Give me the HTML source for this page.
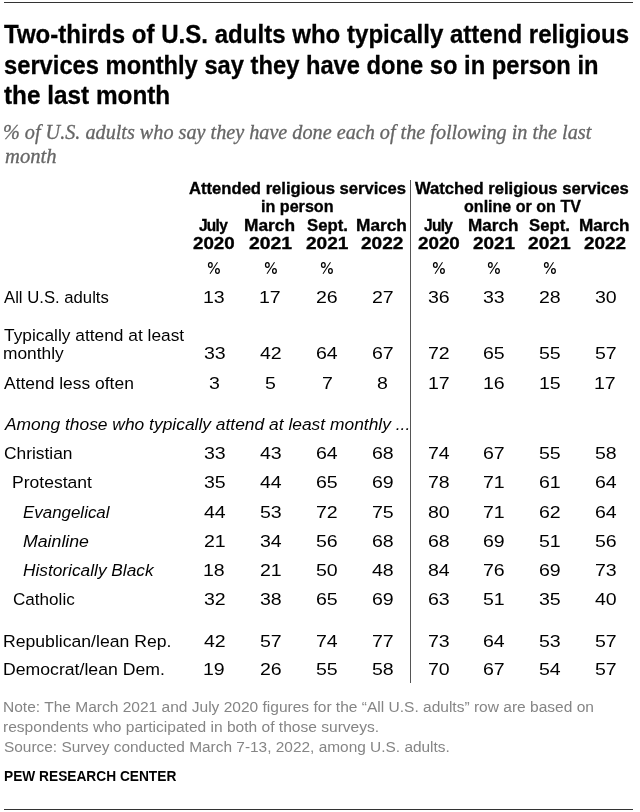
<!DOCTYPE html>
<html><head><meta charset="utf-8"><style>
html,body{margin:0;padding:0;background:#fff;width:640px;height:812px;overflow:hidden}
body{position:relative}
#w{position:absolute;left:0;top:0;width:640px;height:812px;will-change:transform;opacity:0.999}
span{position:absolute;white-space:pre;transform-origin:0 0}
.title{font:normal bold 26px "Liberation Sans", sans-serif;color:#000;line-height:31px}
.sub{font:italic normal 20px "Liberation Serif", serif;color:#666;line-height:24px}
.hdr{font:normal bold 16.5px "Liberation Sans", sans-serif;color:#000;line-height:20px}
.body{font:normal normal 16.3px "Liberation Sans", sans-serif;color:#000;line-height:20px}
.bodyi{font:italic normal 16.3px "Liberation Sans", sans-serif;color:#000;line-height:20px}
.num{font:normal normal 16.3px "Liberation Sans", sans-serif;color:#000;line-height:20px}
.note{font:normal normal 15.5px "Liberation Sans", sans-serif;color:#858585;line-height:19px}
.pew{font:normal bold 14.5px "Liberation Sans", sans-serif;color:#000;line-height:17px}
.hl{position:absolute;background:#333;height:1px}
.title{-webkit-text-stroke:0.3px #000}
.sub{-webkit-text-stroke:0.3px #666}
.hdr{-webkit-text-stroke:0.35px #000}
.pc{position:absolute;fill:none;stroke:#000;stroke-width:1.25}
.vl{position:absolute;background:#555;width:1px}
</style></head><body><div id="w">
<div class="hl" style="left:4px;top:2px;width:629px"></div>
<div class="vl" style="left:410px;top:180px;height:503px"></div>
<div class="hl" style="left:4px;top:809px;width:629px"></div>
<span class="title" style="left:3.90px;top:19.00px;transform:scaleX(0.9252);">Two-thirds of U.S. adults who typically attend religious</span>
<span class="title" style="left:3.80px;top:50.00px;transform:scaleX(0.9123);">services monthly say they have done so in person in</span>
<span class="title" style="left:4.00px;top:80.00px;transform:scaleX(0.9356);">the last month</span>
<span class="sub" style="left:3.29px;top:120.00px;transform:scaleX(1.0096);">% of U.S. adults who say they have done each of the following in the last</span>
<span class="sub" style="left:4.50px;top:144.00px;transform:scaleX(1.0300);">month</span>
<span class="hdr" style="left:189.30px;top:178.00px;transform:scaleX(1.0074);">Attended religious services</span>
<span class="hdr" style="left:261.32px;top:196.00px;transform:scaleX(0.9771);">in person</span>
<span class="hdr" style="left:415.20px;top:178.00px;transform:scaleX(1.0077);">Watched religious services</span>
<span class="hdr" style="left:463.50px;top:196.00px;transform:scaleX(0.9736);">online or on TV</span>
<span class="hdr" style="left:198.90px;top:215.00px;transform:scaleX(0.9359);letter-spacing:-0.77px;">July</span>
<span class="hdr" style="left:244.35px;top:215.00px;transform:scaleX(1.0501);">March</span>
<span class="hdr" style="left:306.60px;top:215.00px;transform:scaleX(1.0137);">Sept.</span>
<span class="hdr" style="left:356.15px;top:215.00px;transform:scaleX(1.0480);">March</span>
<span class="hdr" style="left:423.80px;top:215.00px;transform:scaleX(0.9374);letter-spacing:-0.75px;">July</span>
<span class="hdr" style="left:468.16px;top:215.00px;transform:scaleX(1.0375);">March</span>
<span class="hdr" style="left:529.40px;top:215.00px;transform:scaleX(1.0137);">Sept.</span>
<span class="hdr" style="left:579.36px;top:215.00px;transform:scaleX(1.0396);">March</span>
<span class="hdr" style="left:193.00px;top:233.00px;transform:scaleX(1.1361);">2020</span>
<span class="hdr" style="left:249.20px;top:233.00px;transform:scaleX(1.1717);">2021</span>
<span class="hdr" style="left:305.60px;top:233.00px;transform:scaleX(1.1552);">2021</span>
<span class="hdr" style="left:361.00px;top:233.00px;transform:scaleX(1.1552);">2022</span>
<span class="hdr" style="left:417.80px;top:233.00px;transform:scaleX(1.1388);">2020</span>
<span class="hdr" style="left:472.90px;top:233.00px;transform:scaleX(1.1470);">2021</span>
<span class="hdr" style="left:528.40px;top:233.00px;transform:scaleX(1.1662);">2021</span>
<span class="hdr" style="left:584.20px;top:233.00px;transform:scaleX(1.1443);">2022</span>
<span class="body" style="left:4.10px;top:325.00px;transform:scaleX(1.0647);">Typically attend at least</span>
<span class="bodyi" style="left:4.97px;top:414.00px;transform:scaleX(1.0687);">Among those who typically attend at least monthly ...</span>
<span class="body" style="left:4.10px;top:287.00px;transform:scaleX(1.0254);">All U.S. adults</span>
<span class="num" style="left:202.97px;top:287.00px;transform:scaleX(1.2000);">13</span>
<span class="num" style="left:259.37px;top:287.00px;transform:scaleX(1.2000);">17</span>
<span class="num" style="left:316.17px;top:287.00px;transform:scaleX(1.2000);">26</span>
<span class="num" style="left:371.67px;top:287.00px;transform:scaleX(1.2000);">27</span>
<span class="num" style="left:428.47px;top:287.00px;transform:scaleX(1.2000);">36</span>
<span class="num" style="left:483.47px;top:287.00px;transform:scaleX(1.2000);">33</span>
<span class="num" style="left:539.37px;top:287.00px;transform:scaleX(1.2000);">28</span>
<span class="num" style="left:594.77px;top:287.00px;transform:scaleX(1.2000);">30</span>
<span class="body" style="left:3.03px;top:343.00px;transform:scaleX(1.0656);">monthly</span>
<span class="num" style="left:203.57px;top:343.00px;transform:scaleX(1.2000);">33</span>
<span class="num" style="left:259.97px;top:343.00px;transform:scaleX(1.2000);">42</span>
<span class="num" style="left:316.17px;top:343.00px;transform:scaleX(1.2000);">64</span>
<span class="num" style="left:371.67px;top:343.00px;transform:scaleX(1.2000);">67</span>
<span class="num" style="left:428.47px;top:343.00px;transform:scaleX(1.2000);">72</span>
<span class="num" style="left:483.47px;top:343.00px;transform:scaleX(1.2000);">65</span>
<span class="num" style="left:539.37px;top:343.00px;transform:scaleX(1.2000);">55</span>
<span class="num" style="left:594.77px;top:343.00px;transform:scaleX(1.2000);">57</span>
<span class="body" style="left:4.10px;top:373.00px;transform:scaleX(1.0705);">Attend less often</span>
<span class="num" style="left:209.00px;top:373.00px;transform:scaleX(1.2000);">3</span>
<span class="num" style="left:265.40px;top:373.00px;transform:scaleX(1.2000);">5</span>
<span class="num" style="left:321.60px;top:373.00px;transform:scaleX(1.2000);">7</span>
<span class="num" style="left:377.10px;top:373.00px;transform:scaleX(1.2000);">8</span>
<span class="num" style="left:427.87px;top:373.00px;transform:scaleX(1.2000);">17</span>
<span class="num" style="left:482.87px;top:373.00px;transform:scaleX(1.2000);">16</span>
<span class="num" style="left:538.77px;top:373.00px;transform:scaleX(1.2000);">15</span>
<span class="num" style="left:594.17px;top:373.00px;transform:scaleX(1.2000);">17</span>
<span class="body" style="left:4.10px;top:443.00px;transform:scaleX(1.0667);">Christian</span>
<span class="num" style="left:203.57px;top:443.00px;transform:scaleX(1.2000);">33</span>
<span class="num" style="left:259.97px;top:443.00px;transform:scaleX(1.2000);">43</span>
<span class="num" style="left:316.17px;top:443.00px;transform:scaleX(1.2000);">64</span>
<span class="num" style="left:371.67px;top:443.00px;transform:scaleX(1.2000);">68</span>
<span class="num" style="left:428.47px;top:443.00px;transform:scaleX(1.2000);">74</span>
<span class="num" style="left:483.47px;top:443.00px;transform:scaleX(1.2000);">67</span>
<span class="num" style="left:539.37px;top:443.00px;transform:scaleX(1.2000);">55</span>
<span class="num" style="left:594.77px;top:443.00px;transform:scaleX(1.2000);">58</span>
<span class="body" style="left:12.32px;top:472.00px;transform:scaleX(1.0775);">Protestant</span>
<span class="num" style="left:203.57px;top:472.00px;transform:scaleX(1.2000);">35</span>
<span class="num" style="left:259.97px;top:472.00px;transform:scaleX(1.2000);">44</span>
<span class="num" style="left:316.17px;top:472.00px;transform:scaleX(1.2000);">65</span>
<span class="num" style="left:371.67px;top:472.00px;transform:scaleX(1.2000);">69</span>
<span class="num" style="left:428.47px;top:472.00px;transform:scaleX(1.2000);">78</span>
<span class="num" style="left:483.47px;top:472.00px;transform:scaleX(1.2000);">71</span>
<span class="num" style="left:539.37px;top:472.00px;transform:scaleX(1.2000);">61</span>
<span class="num" style="left:594.77px;top:472.00px;transform:scaleX(1.2000);">64</span>
<span class="bodyi" style="left:22.50px;top:502.00px;transform:scaleX(1.0389);">Evangelical</span>
<span class="num" style="left:203.57px;top:502.00px;transform:scaleX(1.2000);">44</span>
<span class="num" style="left:259.97px;top:502.00px;transform:scaleX(1.2000);">53</span>
<span class="num" style="left:316.17px;top:502.00px;transform:scaleX(1.2000);">72</span>
<span class="num" style="left:371.67px;top:502.00px;transform:scaleX(1.2000);">75</span>
<span class="num" style="left:428.47px;top:502.00px;transform:scaleX(1.2000);">80</span>
<span class="num" style="left:483.47px;top:502.00px;transform:scaleX(1.2000);">71</span>
<span class="num" style="left:539.37px;top:502.00px;transform:scaleX(1.2000);">62</span>
<span class="num" style="left:594.77px;top:502.00px;transform:scaleX(1.2000);">64</span>
<span class="bodyi" style="left:22.50px;top:531.00px;transform:scaleX(1.0878);">Mainline</span>
<span class="num" style="left:203.57px;top:531.00px;transform:scaleX(1.2000);">21</span>
<span class="num" style="left:259.97px;top:531.00px;transform:scaleX(1.2000);">34</span>
<span class="num" style="left:316.17px;top:531.00px;transform:scaleX(1.2000);">56</span>
<span class="num" style="left:371.67px;top:531.00px;transform:scaleX(1.2000);">68</span>
<span class="num" style="left:428.47px;top:531.00px;transform:scaleX(1.2000);">68</span>
<span class="num" style="left:483.47px;top:531.00px;transform:scaleX(1.2000);">69</span>
<span class="num" style="left:539.37px;top:531.00px;transform:scaleX(1.2000);">51</span>
<span class="num" style="left:594.77px;top:531.00px;transform:scaleX(1.2000);">56</span>
<span class="bodyi" style="left:22.50px;top:560.00px;transform:scaleX(1.0613);">Historically Black</span>
<span class="num" style="left:202.97px;top:560.00px;transform:scaleX(1.2000);">18</span>
<span class="num" style="left:259.97px;top:560.00px;transform:scaleX(1.2000);">21</span>
<span class="num" style="left:316.17px;top:560.00px;transform:scaleX(1.2000);">50</span>
<span class="num" style="left:371.67px;top:560.00px;transform:scaleX(1.2000);">48</span>
<span class="num" style="left:428.47px;top:560.00px;transform:scaleX(1.2000);">84</span>
<span class="num" style="left:483.47px;top:560.00px;transform:scaleX(1.2000);">76</span>
<span class="num" style="left:539.37px;top:560.00px;transform:scaleX(1.2000);">69</span>
<span class="num" style="left:594.77px;top:560.00px;transform:scaleX(1.2000);">73</span>
<span class="body" style="left:13.40px;top:589.00px;transform:scaleX(1.0498);">Catholic</span>
<span class="num" style="left:203.57px;top:589.00px;transform:scaleX(1.2000);">32</span>
<span class="num" style="left:259.97px;top:589.00px;transform:scaleX(1.2000);">38</span>
<span class="num" style="left:316.17px;top:589.00px;transform:scaleX(1.2000);">65</span>
<span class="num" style="left:371.67px;top:589.00px;transform:scaleX(1.2000);">69</span>
<span class="num" style="left:428.47px;top:589.00px;transform:scaleX(1.2000);">63</span>
<span class="num" style="left:483.47px;top:589.00px;transform:scaleX(1.2000);">51</span>
<span class="num" style="left:539.37px;top:589.00px;transform:scaleX(1.2000);">35</span>
<span class="num" style="left:594.77px;top:589.00px;transform:scaleX(1.2000);">40</span>
<span class="body" style="left:3.42px;top:631.00px;transform:scaleX(1.0817);">Republican/lean Rep.</span>
<span class="num" style="left:203.57px;top:631.00px;transform:scaleX(1.2000);">42</span>
<span class="num" style="left:259.97px;top:631.00px;transform:scaleX(1.2000);">57</span>
<span class="num" style="left:316.17px;top:631.00px;transform:scaleX(1.2000);">74</span>
<span class="num" style="left:371.67px;top:631.00px;transform:scaleX(1.2000);">77</span>
<span class="num" style="left:428.47px;top:631.00px;transform:scaleX(1.2000);">73</span>
<span class="num" style="left:483.47px;top:631.00px;transform:scaleX(1.2000);">64</span>
<span class="num" style="left:539.37px;top:631.00px;transform:scaleX(1.2000);">53</span>
<span class="num" style="left:594.77px;top:631.00px;transform:scaleX(1.2000);">57</span>
<span class="body" style="left:3.42px;top:659.00px;transform:scaleX(1.0841);">Democrat/lean Dem.</span>
<span class="num" style="left:202.97px;top:659.00px;transform:scaleX(1.2000);">19</span>
<span class="num" style="left:259.97px;top:659.00px;transform:scaleX(1.2000);">26</span>
<span class="num" style="left:316.17px;top:659.00px;transform:scaleX(1.2000);">55</span>
<span class="num" style="left:371.67px;top:659.00px;transform:scaleX(1.2000);">58</span>
<span class="num" style="left:428.47px;top:659.00px;transform:scaleX(1.2000);">70</span>
<span class="num" style="left:483.47px;top:659.00px;transform:scaleX(1.2000);">67</span>
<span class="num" style="left:539.37px;top:659.00px;transform:scaleX(1.2000);">54</span>
<span class="num" style="left:594.77px;top:659.00px;transform:scaleX(1.2000);">57</span>
<span class="note" style="left:3.20px;top:697.00px;transform:scaleX(1.0017);">Note: The March 2021 and July 2020 figures for the “All U.S. adults” row are based on</span>
<span class="note" style="left:3.20px;top:717.00px;transform:scaleX(1.0035);">respondents who participated in both of those surveys.</span>
<span class="note" style="left:4.20px;top:737.00px;transform:scaleX(0.9951);">Source: Survey conducted March 7-13, 2022, among U.S. adults.</span>
<span class="pew" style="left:3.80px;top:768.00px;transform:scaleX(0.9463);">PEW RESEARCH CENTER</span>
<svg class="pc" style="left:206.40px;top:259.90px" width="16" height="16" viewBox="0 0 16 16"><ellipse cx="4.35" cy="4.95" rx="1.85" ry="2.3"/><ellipse cx="11.45" cy="11.0" rx="1.85" ry="2.3"/><path style="stroke-width:1.05" d="M11.5 2.3L4.0 13.7"/></svg>
<svg class="pc" style="left:262.80px;top:259.90px" width="16" height="16" viewBox="0 0 16 16"><ellipse cx="4.35" cy="4.95" rx="1.85" ry="2.3"/><ellipse cx="11.45" cy="11.0" rx="1.85" ry="2.3"/><path style="stroke-width:1.05" d="M11.5 2.3L4.0 13.7"/></svg>
<svg class="pc" style="left:319.00px;top:259.90px" width="16" height="16" viewBox="0 0 16 16"><ellipse cx="4.35" cy="4.95" rx="1.85" ry="2.3"/><ellipse cx="11.45" cy="11.0" rx="1.85" ry="2.3"/><path style="stroke-width:1.05" d="M11.5 2.3L4.0 13.7"/></svg>
<svg class="pc" style="left:431.30px;top:259.90px" width="16" height="16" viewBox="0 0 16 16"><ellipse cx="4.35" cy="4.95" rx="1.85" ry="2.3"/><ellipse cx="11.45" cy="11.0" rx="1.85" ry="2.3"/><path style="stroke-width:1.05" d="M11.5 2.3L4.0 13.7"/></svg>
<svg class="pc" style="left:486.30px;top:259.90px" width="16" height="16" viewBox="0 0 16 16"><ellipse cx="4.35" cy="4.95" rx="1.85" ry="2.3"/><ellipse cx="11.45" cy="11.0" rx="1.85" ry="2.3"/><path style="stroke-width:1.05" d="M11.5 2.3L4.0 13.7"/></svg>
<svg class="pc" style="left:542.20px;top:259.90px" width="16" height="16" viewBox="0 0 16 16"><ellipse cx="4.35" cy="4.95" rx="1.85" ry="2.3"/><ellipse cx="11.45" cy="11.0" rx="1.85" ry="2.3"/><path style="stroke-width:1.05" d="M11.5 2.3L4.0 13.7"/></svg>
</div></body></html>
